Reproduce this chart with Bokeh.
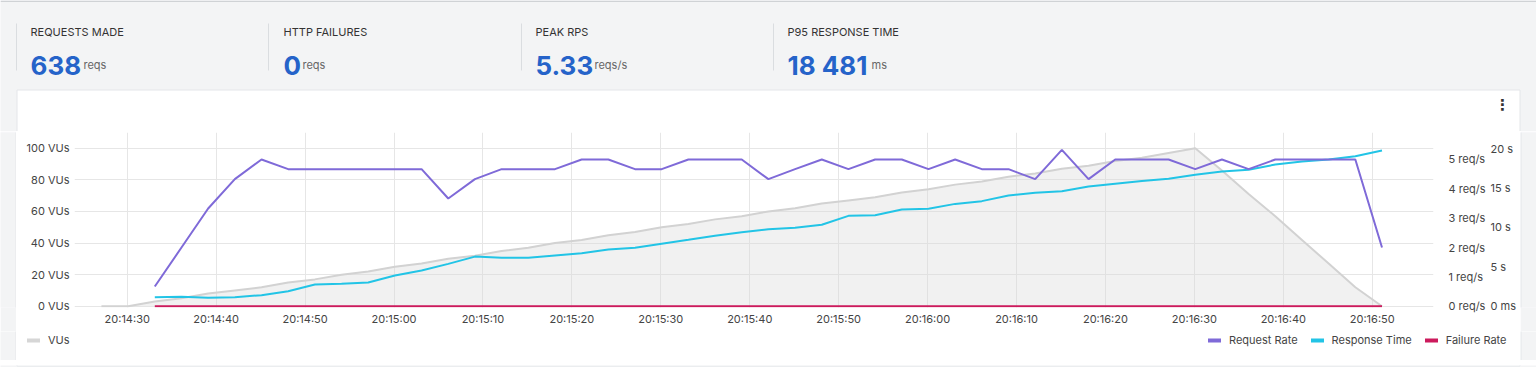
import pandas as pd
from bokeh.plotting import figure
from bokeh.models import (Range1d, LinearAxis, FixedTicker, PrintfTickFormatter,
                          CustomJSTickFormatter, DatetimeTickFormatter,
                          SingleIntervalTicker, Legend, LegendItem)
from bokeh.layouts import column, row
from bokeh.embed import file_html
from bokeh.resources import INLINE
from bokeh.core.properties import value

# ---------------- data ----------------
stat_labels = ["REQUESTS MADE", "HTTP FAILURES", "PEAK RPS", "P95 RESPONSE TIME"]
stat_values = ["638", "0", "5.33", "18 481"]
stat_units = ["reqs", "reqs", "reqs/s", "ms"]

first_sample = "2024-05-01 20:14:27.1"   # first VUs sample
sample_step = "3s"

vus = [0, 0, 3, 5, 8, 10, 12, 15, 17, 20, 22, 25, 27, 30, 32, 35, 37, 40, 42, 45,
       47, 50, 52, 55, 57, 60, 62, 65, 67, 69, 72, 74, 77, 79, 82, 84, 87, 89, 92,
       94, 97, 100, 86, 71, 57, 42, 27, 12, 0]

request_rate = [0.67, 2.00, 3.33, 4.33, 5.00, 4.67, 4.67, 4.67, 4.67, 4.67, 4.67,
                3.67, 4.33, 4.67, 4.67, 4.67, 5.00, 5.00, 4.67, 4.67, 5.00, 5.00,
                5.00, 4.33, 4.67, 5.00, 4.67, 5.00, 5.00, 4.67, 5.00, 4.67, 4.67,
                4.33, 5.33, 4.33, 5.00, 5.00, 5.00, 4.67, 5.00, 4.67, 5.00, 5.00,
                5.00, 5.00, 2.00]

response_time_s = [1.15, 1.19, 1.06, 1.15, 1.40, 1.90, 2.76, 2.84, 3.00, 3.90,
                   4.54, 5.38, 6.30, 6.15, 6.15, 6.44, 6.73, 7.20, 7.42, 7.93,
                   8.43, 8.94, 9.40, 9.78, 9.96, 10.34, 11.48, 11.56, 12.29, 12.37,
                   13.00, 13.35, 14.07, 14.40, 14.60, 15.20, 15.55, 15.90, 16.20, 16.70,
                   17.10, 17.33, 18.00, 18.40, 18.64, 19.06, 19.78]

failure_rate = [0] * len(request_rate)

vu_ticks = [0, 20, 40, 60, 80, 100]
rps_ticks = [0, 1, 2, 3, 4, 5]
rt_ticks = [0, 5, 10, 15, 20]

vu_times = pd.date_range(first_sample, periods=len(vus), freq=sample_step)
metric_times = vu_times[2:]

# ---------------- style ----------------
PAGE = "#f3f4f5"
CARD_BORDER = "#e4e6e9"
FONT = "Inter"
TXT = "#444444"
PURPLE = "#7f6ad8"
CYAN = "#22c4e6"
RED = "#cc1a5c"
GRAY_LINE = "#d2d2d2"

W = 1536
CARD_L, CARD_R = 16, 1520
CARD_W = CARD_R - CARD_L


def plain(width, height, bg, yflip=True):
    f = figure(width=width, height=height, x_range=Range1d(0, width),
               y_range=Range1d(height, 0) if yflip else Range1d(0, height),
               x_axis_type=None, y_axis_type=None, output_backend="svg",
               toolbar_location=None, min_border=0, outline_line_color=None,
               background_fill_color=bg, border_fill_color=bg)
    f.grid.visible = False
    return f


# ---------------- stats header ----------------
HEAD_H = 131
s = plain(W, HEAD_H, PAGE)

stat_x = [30, 283, 535, 787]
unit_x = [83, 302, 594, 871]
sep_x = [16, 268, 521, 773]

s.segment(x0=[0], x1=[W], y0=[0.75], y1=[0.75], line_color="#cfd2d5", line_width=1.5)
s.segment(x0=sep_x, x1=sep_x, y0=[23] * 4, y1=[70] * 4, line_color="#dadde0", line_width=1)
s.text(x=stat_x, y=[31.5] * 4, text=stat_labels, text_font=value(FONT),
       text_font_size="11px", text_color="#333333", text_baseline="middle")
s.text(x=stat_x, y=[65] * 4, text=stat_values, text_font=value(FONT),
       text_font_size="26px", text_font_style="bold", text_color="#2563c9",
       text_baseline="alphabetic")
s.text(x=unit_x, y=[64] * 4, text=stat_units, text_font=value(FONT),
       text_font_size="11px", text_color="#666666", text_baseline="alphabetic")
# card top
s.quad(left=[CARD_L + 0.5], right=[CARD_R - 0.5], top=[89.5], bottom=[150],
       fill_color="white", line_color=CARD_BORDER, line_width=1)
s.text(x=[1502], y=[104], text=["⋮"], text_font=value("DejaVu Sans"),
       text_font_size="15px", text_font_style="bold", text_color="#333333",
       text_baseline="middle", text_align="center")

# ---------------- chart ----------------
CHART_H = 200
x_start = pd.Timestamp("2024-05-01 20:14:24.07")
x_end = pd.Timestamp("2024-05-01 20:16:56.89")

p = figure(width=CARD_W, height=CHART_H, x_axis_type="datetime",
           x_range=Range1d(x_start, x_end), y_range=Range1d(-0.8, 110),
           output_backend="svg", toolbar_location=None,
           min_border_left=58, min_border_right=87, min_border_top=1, min_border_bottom=24,
           background_fill_color="white", border_fill_color="white",
           outline_line_color=None)

p.extra_y_ranges = {"rps": Range1d(-0.044, 5.92), "rt": Range1d(-0.165, 22.07)}

fmt = "%H:%M:%S"
p.xaxis.ticker = SingleIntervalTicker(interval=10000, num_minor_ticks=0)
p.xaxis.formatter = DatetimeTickFormatter(milliseconds=fmt, seconds=fmt, minsec=fmt,
                                          minutes=fmt, hourmin=fmt, hours=fmt)
p.yaxis.ticker = FixedTicker(ticks=vu_ticks)
p.yaxis.formatter = PrintfTickFormatter(format="%d VUs")

ax_rps = LinearAxis(y_range_name="rps", ticker=FixedTicker(ticks=rps_ticks),
                    formatter=PrintfTickFormatter(format="%d req/s"))
ax_rt = LinearAxis(y_range_name="rt", ticker=FixedTicker(ticks=rt_ticks),
                   formatter=CustomJSTickFormatter(code="return tick == 0 ? '0 ms' : tick + ' s'"))
p.add_layout(ax_rps, "right")
p.add_layout(ax_rt, "right")

for ax in [p.xaxis[0], p.yaxis[0], ax_rps, ax_rt]:
    ax.axis_line_color = None
    ax.major_tick_line_color = None
    ax.minor_tick_line_color = None
    ax.major_tick_out = 0
    ax.major_tick_in = 0
    ax.minor_tick_out = 0
    ax.major_label_text_font = FONT
    ax.major_label_text_font_size = "11px"
    ax.major_label_text_color = TXT
p.xaxis.major_label_standoff = 4
p.yaxis[0].major_label_standoff = 5
ax_rps.major_label_standoff = 15
ax_rt.major_label_standoff = 2

p.xgrid.grid_line_color = "#e6e6e6"
p.ygrid.grid_line_color = "#e6e6e6"

p.varea(x=vu_times, y1=0, y2=vus, fill_color="#d8d8d8", fill_alpha=0.35)
p.line(x=vu_times, y=vus, line_color=GRAY_LINE, line_width=2)
p.line(x=metric_times, y=failure_rate, y_range_name="rps", line_color=RED, line_width=2)
p.line(x=metric_times, y=response_time_s, y_range_name="rt", line_color=CYAN, line_width=2)
p.line(x=metric_times, y=request_rate, y_range_name="rps", line_color=PURPLE, line_width=2)

# ---------------- legend row (inside card) ----------------
LEG_H = 29
lf = plain(CARD_W, LEG_H, "white", yflip=False)


def key(color):
    # legend key glyph; its only points lie outside the visible range
    return lf.line(x=[-100, -90], y=[-100, -100], line_color=color, line_width=4, line_cap="round")


k_vu = key("#d6d6d6")
k_rr = key(PURPLE)
k_rt = key(CYAN)
k_fr = key(RED)


def style_legend(lg):
    lg.orientation = "horizontal"
    lg.border_line_color = None
    lg.background_fill_alpha = 0
    lg.padding = 0
    lg.margin = 0
    lg.glyph_width = 13
    lg.glyph_height = 12
    lg.label_standoff = 8
    lg.spacing = 13
    lg.label_text_font = FONT
    lg.label_text_font_size = "11px"
    lg.label_text_color = TXT


leg_l = Legend(items=[LegendItem(label="VUs", renderers=[k_vu])], location=(11, 13))
leg_r = Legend(items=[LegendItem(label="Request Rate", renderers=[k_rr]),
                      LegendItem(label="Response Time", renderers=[k_rt]),
                      LegendItem(label="Failure Rate", renderers=[k_fr])],
               location=(1192, 13))
style_legend(leg_l)
style_legend(leg_r)
lf.add_layout(leg_l)
lf.add_layout(leg_r)


def strip(height, border_x):
    f = plain(CARD_L, height, PAGE)
    f.segment(x0=[border_x], x1=[border_x], y0=[-1], y1=[height + 1],
              line_color=CARD_BORDER, line_width=1)
    return f


BOT_H = 367 - HEAD_H - CHART_H - LEG_H
bot = plain(W, BOT_H, PAGE)
bot.quad(left=[CARD_L + 0.5], right=[CARD_R - 0.5], top=[-5], bottom=[0.5],
         fill_color="white", line_color=CARD_BORDER, line_width=1)

layout = column(
    s,
    row(strip(CHART_H, CARD_L - 0.5), p, strip(CHART_H, 0.5)),
    row(strip(LEG_H, CARD_L - 0.5), lf, strip(LEG_H, 0.5)),
    bot,
)

open("out.html", "w").write(file_html(layout, INLINE))
